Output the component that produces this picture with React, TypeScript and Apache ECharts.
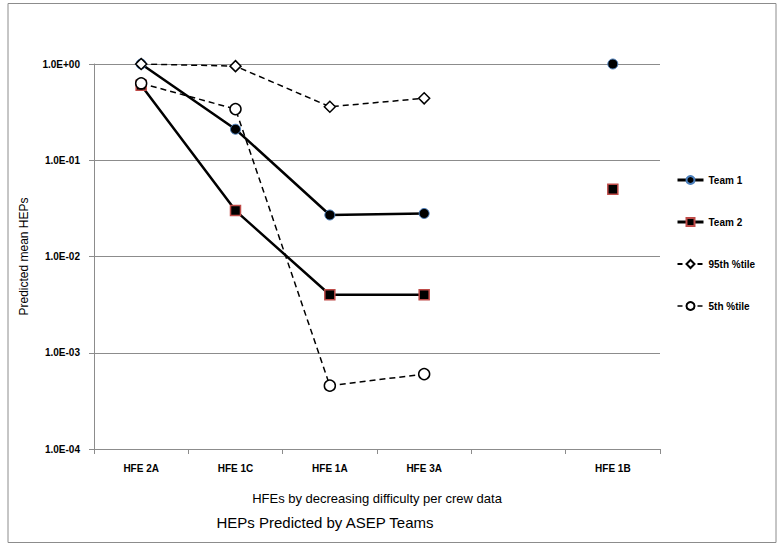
import React, { useEffect, useRef } from "react";
import * as echarts from "echarts";

const categories = ["HFE 2A", "HFE 1C", "HFE 1A", "HFE 3A", "", "HFE 1B"];
const team1 = [1.0, 0.21, 0.027, 0.028, null, 1.0];
const team2 = [0.6, 0.03, 0.004, 0.004, null, 0.05];
const p95 = [1.0, 0.95, 0.36, 0.44, null, null];
const p5 = [0.63, 0.34, 0.000455, 0.0006, null, null];
const seriesNames = ["Team 1", "Team 2", "95th %tile", "5th %tile"];

const FONT = "'Liberation Sans Narrow', 'Liberation Sans', Arial, sans-serif";

function fmt(v: number): string {
  const e = Math.round(Math.log10(v));
  const sign = e >= 0 ? "+" : "-";
  return "1.0E" + sign + String(Math.abs(e)).padStart(2, "0");
}

export default function App() {
  const ref = useRef<HTMLDivElement>(null);
  useEffect(() => {
    if (!ref.current) return;
    const chart = echarts.init(ref.current, undefined, { renderer: "svg" });
    chart.setOption({
      animation: false,
      backgroundColor: "#ffffff",
      title: {
        text: "HEPs Predicted by ASEP Teams",
        left: 320,
        textAlign: "center",
        top: 510,
        textStyle: { fontFamily: FONT, fontSize: 15, fontWeight: "normal", color: "#000" },
      },
      graphic: [
        {
          type: "rect",
          shape: { x: 8, y: 3.5, width: 768, height: 539 },
          style: { fill: "none", stroke: "#8c8c8c", lineWidth: 1 },
          silent: true,
        },
      ],
      legend: {
        orient: "vertical",
        left: 671,
        top: 170,
        itemWidth: 26,
        itemHeight: 10,
        itemGap: 32,
        data: [
          { name: seriesNames[0], lineStyle: { width: 3, color: "#000" } },
          { name: seriesNames[1], lineStyle: { width: 3, color: "#000" } },
          { name: seriesNames[2], lineStyle: { width: 2, color: "#000", type: [5, 5] } },
          { name: seriesNames[3], lineStyle: { width: 1.5, color: "#000", type: [5, 5] } },
        ],
        textStyle: { fontFamily: FONT, fontSize: 10, fontWeight: "bold", color: "#000" },
      },
      grid: { left: 94, right: 118, top: 64, bottom: 95, containLabel: false },
      xAxis: {
        type: "category",
        data: categories,
        boundaryGap: true,
        name: "HFEs by decreasing difficulty per crew data",
        nameLocation: "middle",
        nameGap: 43,
        nameTextStyle: { fontFamily: FONT, fontSize: 13, color: "#000" },
        axisLine: { lineStyle: { color: "#8c8c8c", width: 1 } },
        axisTick: { show: true, alignWithLabel: false, length: 5, lineStyle: { color: "#8c8c8c" } },
        axisLabel: { interval: 0, margin: 14, fontFamily: FONT, fontSize: 10, fontWeight: "bold", color: "#000" },
        splitLine: { show: false },
      },
      yAxis: {
        type: "log",
        logBase: 10,
        min: 0.0001,
        max: 1,
        name: "Predicted mean HEPs",
        nameLocation: "middle",
        nameGap: 64,
        nameRotate: 90,
        nameTextStyle: { fontFamily: FONT, fontSize: 12, color: "#000" },
        axisLine: { show: true, lineStyle: { color: "#8c8c8c", width: 1 } },
        axisTick: { show: true, length: 5, lineStyle: { color: "#8c8c8c" } },
        axisLabel: {
          formatter: (v: number) => fmt(v),
          margin: 14,
          fontFamily: FONT,
          fontSize: 10,
          fontWeight: "bold",
          color: "#000",
        },
        splitLine: { show: true, lineStyle: { color: "#8c8c8c", width: 1 } },
      },
      series: [
        {
          name: "Team 1",
          type: "line",
          data: team1,
          connectNulls: false,
          symbol: "circle",
          symbolSize: 10,
          lineStyle: { color: "#000", width: 2.5, type: "solid" },
          itemStyle: { color: "#000", borderColor: "#4a7ebb", borderWidth: 1 },
          z: 2,
        },
        {
          name: "Team 2",
          type: "line",
          data: team2,
          connectNulls: false,
          symbol: "rect",
          symbolSize: 10,
          lineStyle: { color: "#000", width: 2.5, type: "solid" },
          itemStyle: { color: "#000", borderColor: "#be4b48", borderWidth: 1.5 },
          z: 3,
        },
        {
          name: "95th %tile",
          type: "line",
          data: p95,
          connectNulls: false,
          symbol: "diamond",
          symbolSize: [11, 11],
          lineStyle: { color: "#000", width: 1.5, type: [6, 4] },
          itemStyle: { color: "#fff", borderColor: "#000", borderWidth: 1.5 },
          z: 4,
        },
        {
          name: "5th %tile",
          type: "line",
          data: p5,
          connectNulls: false,
          symbol: "circle",
          symbolSize: 11,
          lineStyle: { color: "#000", width: 1.5, type: [6, 4] },
          itemStyle: { color: "#fff", borderColor: "#000", borderWidth: 1.5 },
          z: 5,
        },
      ],
    });
    return () => chart.dispose();
  }, []);
  return (
    <div
      ref={ref}
      style={{ position: "fixed", left: 0, top: 0, width: 778, height: 544 }}
    />
  );
}
